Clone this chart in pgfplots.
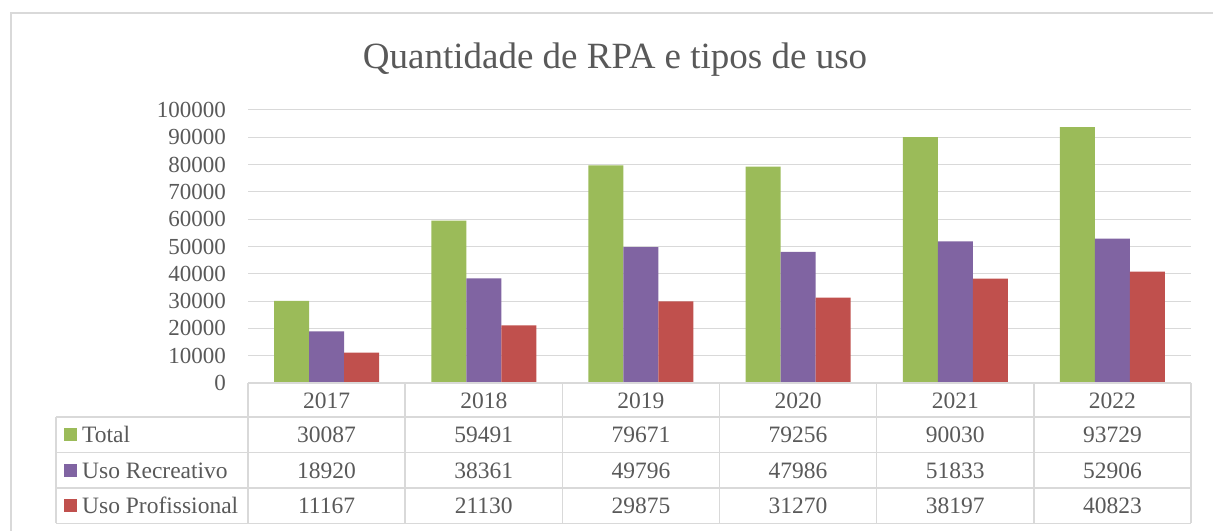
\documentclass[border=0pt]{standalone}
\usepackage{pgfplots}
\pgfplotsset{compat=1.18}
\usepackage{fontspec}
\setmainfont{Liberation Serif}
\definecolor{cgreen}{HTML}{9BBB59}
\definecolor{cpurple}{HTML}{8064A2}
\definecolor{cred}{HTML}{C0504D}
\definecolor{gridc}{HTML}{D9D9D9}
\definecolor{textc}{HTML}{595959}
\begin{document}
\begin{tikzpicture}[x=1bp,y=1bp]
\path[use as bounding box] (0,0) rectangle (1213,531);
\draw[gridc, line width=1.5bp] (11,0) -- (11,518) -- (1213,518);
\node[text=textc, font=\fontsize{37bp}{44bp}\selectfont, anchor=base] at (615,462) {Quantidade de RPA e tipos de uso};
\begin{axis}[
  at={(248bp,148bp)}, anchor=south west, scale only axis,
  width=943bp, height=273bp,
  xmin=-0.5, xmax=5.5, ymin=0, ymax=100000,
  ytick={0,10000,20000,30000,40000,50000,60000,70000,80000,90000,100000},
  yticklabels={0,10000,20000,30000,40000,50000,60000,70000,80000,90000,100000},
  xtick=\empty,
  ymajorgrids, grid style={gridc, line width=1bp},
  axis line style={draw=none},
  major tick length=0pt,
  scaled y ticks=false,
  yticklabel style={text=textc, font=\fontsize{23bp}{27bp}\selectfont, inner sep=0pt, xshift=-22bp},
]
\addplot[ybar, bar width=35bp, bar shift=-35bp, fill=cgreen, draw=none] coordinates {(0,30087) (1,59491) (2,79671) (3,79256) (4,90030) (5,93729)};
\addplot[ybar, bar width=35bp, bar shift=0bp, fill=cpurple, draw=none] coordinates {(0,18920) (1,38361) (2,49796) (3,47986) (4,51833) (5,52906)};
\addplot[ybar, bar width=35bp, bar shift=35bp, fill=cred, draw=none] coordinates {(0,11167) (1,21130) (2,29875) (3,31270) (4,38197) (5,40823)};
\end{axis}
% data table grid
\begin{scope}[gridc, line width=1.5bp]
\draw (248,148) -- (1191,148);
\draw (56,114) -- (1191,114);
\draw (56,78.5) -- (1191,78.5);
\draw (56,43) -- (1191,43);
\draw (56,7.7) -- (1191,7.7);
\draw (56,114) -- (56,7.7);
\foreach \i in {0,...,6} { \draw ({248+157.1667*\i},148) -- ({248+157.1667*\i},7.7); }
\end{scope}
\begin{scope}[font=\fontsize{23.5bp}{28bp}\selectfont, text=textc, every node/.style={anchor=base, inner sep=0pt, text=textc}]
\foreach \y [count=\i from 0] in {2017,2018,2019,2020,2021,2022} {\node at ({326.6+157.1667*\i},122) {\y};}
\foreach \v [count=\i from 0] in {30087,59491,79671,79256,90030,93729} {\node at ({326.6+157.1667*\i},88.3) {\v};}
\foreach \v [count=\i from 0] in {18920,38361,49796,47986,51833,52906} {\node at ({326.6+157.1667*\i},52.9) {\v};}
\foreach \v [count=\i from 0] in {11167,21130,29875,31270,38197,40823} {\node at ({326.6+157.1667*\i},17.6) {\v};}
\fill[cgreen] (64,89.5) rectangle (77,102.5);
\fill[cpurple] (64,54) rectangle (77,67);
\fill[cred] (64,18.5) rectangle (77,31.5);
\node[anchor=base west] at (82,88.3) {Total};
\node[anchor=base west] at (82,52.9) {Uso Recreativo};
\node[anchor=base west] at (82,17.6) {Uso Profissional};
\end{scope}
\end{tikzpicture}
\end{document}
